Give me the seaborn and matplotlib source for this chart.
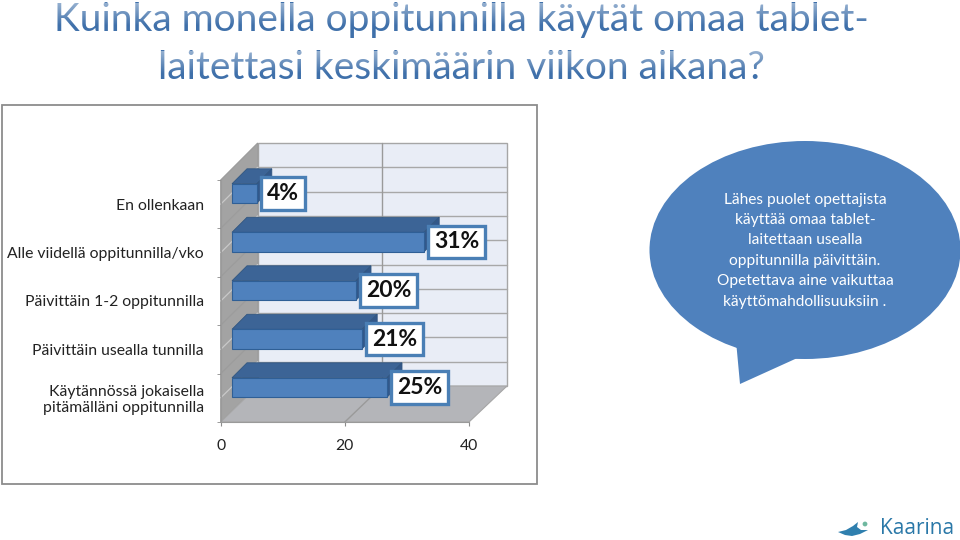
import numpy as np
import matplotlib
matplotlib.use("Agg")
import matplotlib.pyplot as plt
from matplotlib.patches import Polygon, Rectangle, Ellipse, Circle
import seaborn as sns

categories = ["En ollenkaan", "Alle viidellä oppitunnilla/vko", "Päivittäin 1-2 oppitunnilla",
              "Päivittäin usealla tunnilla", "Käytännössä jokaisella\npitämälläni oppitunnilla"]
values = [4, 31, 20, 21, 25]
x_ticks = [0, 20, 40]
title_lines = ["Kuinka monella oppitunnilla käytät omaa tablet-", "laitettasi keskimäärin viikon aikana?"]
bubble_lines = ["Lähes puolet opettajista", "käyttää omaa tablet-", "laitettaan usealla",
                "oppitunnilla päivittäin.", "Opetettava aine vaikuttaa", "käyttömahdollisuuksiin ."]
logo_text = "Kaarina"

sns.set_style("white")
plt.rcParams["font.family"] = ["Lato", "DejaVu Sans"]
W, H = 960, 540
fig = plt.figure(figsize=(9.6, 5.4), dpi=100, facecolor="white")

def axes_px(l, t, r, b, **kw):
    return fig.add_axes([l / W, 1 - b / H, (r - l) / W, (b - t) / H], **kw)

BLUE = "#4f81bd"
# ---- pixel canvas for decoration
bg = axes_px(0, 0, W, H, zorder=0)
bg.set_xlim(0, W); bg.set_ylim(H, 0); bg.axis("off")

# title with soft vertical shading (white veil over real text)
tfont = dict(family="Lato", color="#3f70aa", ha="center", va="baseline", fontsize=28)
bg.text(461, 31, title_lines[0], **tfont)
bg.text(461, 79, title_lines[1], **tfont)
rgba = np.ones((32, 1, 4)); rgba[:, 0, 3] = np.linspace(0.45, 0, 32)
for t, b in [(3, 26), (51, 74)]:
    bg.imshow(rgba, extent=(40, 880, b, t), aspect="auto", zorder=5)
bg.set_xlim(0, W); bg.set_ylim(H, 0)

# chart frame
bg.add_patch(Rectangle((2, 105), 535, 379, fc="white", ec="#8c8c8c", lw=1.3))

# 3-D box: front plane (220.7..469, 180..422), back plane shifted by (37,-37)
fl, fr, ft, fb = 220.7, 469, 180, 422
d = 37
bl, br, bt, bb = fl + d, fr + 38, ft - d, fb - 36
bg.add_patch(Polygon([(bl, bt), (br, bt), (br, bb), (bl, bb)], fc="#e9edf6", ec="#a6a6a6", lw=1))
bg.add_patch(Polygon([(fl, ft), (bl, bt), (bl, bb), (fl, fb)], fc="#a3a3a3", ec="#9a9a9a", lw=0.8))
bg.add_patch(Polygon([(fl, fb), (bl, bb), (br, bb), (fr, fb)], fc="#b4b5b9", ec="#a6a6a6", lw=0.8))
for k in range(1, 10):
    y = bt + k * (bb - bt) / 10
    bg.plot([bl, br], [y, y], color="#a8a8a8", lw=1)
    y2 = ft + k * (fb - ft) / 10
    bg.plot([fl, bl], [y2, y], color="#c9c9c9" if k % 2 else "#9c9c9c", lw=0.9)
xm = (bl + br) / 2
bg.plot([xm, xm], [bt, bb], color="#9a9a9a", lw=1)
bg.plot([(fl + fr) / 2, xm], [fb, bb], color="#9a9a9a", lw=1)

# callout bubble
bg.add_patch(Polygon([(735, 330), (740, 384), (815, 350)], fc=BLUE, ec="none"))
bg.add_patch(Ellipse((805, 250), 311, 218, fc=BLUE, ec="none"))
for y, line in zip([200, 220, 240, 261, 281, 302], bubble_lines):
    bg.text(805, y, line, color="white", ha="center", va="center", fontsize=11.2,
            family="Lato", zorder=6)

# logo
bg.add_patch(Polygon([(838, 532), (846, 530), (853, 526), (858, 522), (857, 527), (861, 530),
                      (868, 530), (860, 534), (852, 536), (845, 535)], fc="#2f7fae", ec="none"))
bg.add_patch(Circle((865, 524), 2.4, fc="#6fb8a0", ec="none"))
bg.text(917, 528, logo_text, color="#2a78a8", ha="center", va="center", fontsize=15,
        family="Open Sans", fontweight="medium")

# ---- front-plane axes: tick marks and labels
af = axes_px(fl, ft, fr, fb, zorder=1)
af.patch.set_alpha(0)
af.set_xlim(0, 40); af.set_ylim(4.5, -0.5)
for s in ["top", "right"]:
    af.spines[s].set_visible(False)
for s in ["left", "bottom"]:
    af.spines[s].set_color("#9a9a9a")
af.set_xticks(x_ticks)
af.set_xticklabels(x_ticks, fontsize=11.3, color="#222222")
af.set_yticks(range(5))
af.set_yticklabels(categories, fontsize=11.3, color="#222222", linespacing=1.15)
af.set_yticks(np.arange(-0.5, 5), minor=True)
af.tick_params(axis="y", which="major", length=0, pad=12)
af.tick_params(axis="y", which="minor", length=3, color="#8c8c8c", left=True)
af.tick_params(axis="x", which="major", length=3, color="#8c8c8c", bottom=True, pad=9)

# ---- bars
ab = axes_px(232, 169.25, 232 + 248, 411.75, zorder=2)
ab.patch.set_alpha(0)
sns.barplot(x=values, y=categories, orient="h", color=BLUE, saturation=1, width=0.4, ax=ab)
ab.set_xlim(0, 40); ab.set_ylim(4.5, -0.5)
ab.axis("off")
dep = 15
fig.canvas.draw()
bars = list(ab.patches)
for p, v in zip(bars, values):
    p.set_edgecolor("#2f5f96"); p.set_linewidth(0.8); p.set_clip_on(False); p.set_zorder(3)
    (x0, y1), (x1, y0) = ab.transData.transform([(p.get_x(), p.get_y()),
                                                 (p.get_x() + p.get_width(), p.get_y() + p.get_height())])
    top = max(y0, y1); bot = min(y0, y1)
    ab.add_patch(Polygon([(x0, top), (x0 + dep, top + dep), (x1 + dep, top + dep), (x1, top)],
                         transform=None, fc="#3c6496", ec="#315680", lw=0.6, zorder=2, clip_on=False))
    ab.add_patch(Polygon([(x1, top), (x1 + dep, top + dep), (x1 + dep, bot + dep), (x1, bot)],
                         transform=None, fc="#33588a", ec="#315680", lw=0.6, zorder=2, clip_on=False))
for i, v in enumerate(values):
    ab.annotate(f"{v}%", (v, i), xytext=(10, 0), textcoords="offset pixels", ha="left", va="center",
                fontsize=16.5, fontweight="bold", color="#111111", family="Lato", zorder=6,
                annotation_clip=False,
                bbox=dict(boxstyle="square,pad=0.25", fc="white", ec="#4a7fb5", lw=2.4))

fig.savefig("out.png", dpi=100)
